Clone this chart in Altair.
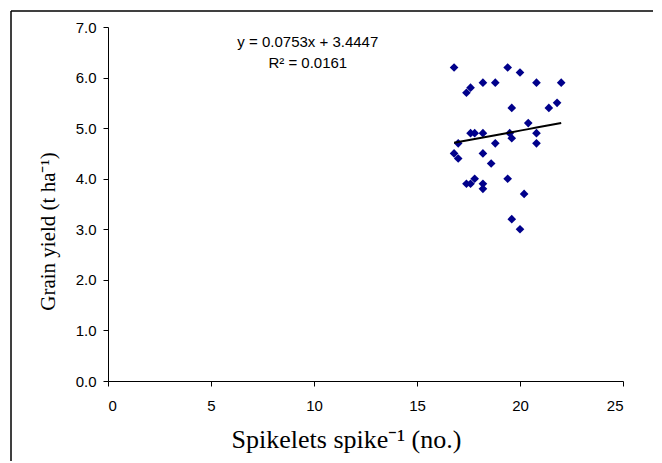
import altair as alt
import pandas as pd

# Spikelets per spike (x) and grain yield (y)
spikelets = [16.8, 19.4, 18.2, 18.8, 17.6, 17.4, 19.6, 17.6, 17.8, 18.2,
             19.5, 19.6, 17.0, 18.8, 16.8, 17.0, 18.2, 18.6, 20.0, 20.8,
             22.0, 21.4, 21.8, 20.4, 20.8, 20.8, 17.4, 17.6, 17.8, 18.2,
             18.2, 19.4, 20.2, 19.6, 20.0]
grain_yield = [6.2, 6.2, 5.9, 5.9, 5.8, 5.7, 5.4, 4.9, 4.9, 4.9,
               4.9, 4.8, 4.7, 4.7, 4.5, 4.4, 4.5, 4.3, 6.1, 5.9,
               5.9, 5.4, 5.5, 5.1, 4.9, 4.7, 3.9, 3.9, 4.0, 3.9,
               3.8, 4.0, 3.7, 3.2, 3.0]

slope = 0.0753
intercept = 3.4447
eq_labels = ["y = 0.0753x + 3.4447", "R² = 0.0161"]
eq_x = [9.7, 9.7]
eq_y = [6.70, 6.29]

x_ticks = [0, 5, 10, 15, 20, 25]
y_ticks = [0, 1, 2, 3, 4, 5, 6, 7]

df = pd.DataFrame({"x": spikelets, "y": grain_yield})
eq_df = pd.DataFrame({"label": eq_labels, "x": eq_x, "y": eq_y})

xscale = alt.Scale(domain=[0, 25], nice=False)
yscale = alt.Scale(domain=[0, 7], nice=False)

xaxis = alt.Axis(values=x_ticks, title="Spikelets spike⁻¹ (no.)", grid=False,
                 domainColor="black", tickColor="black", tickSize=5,
                 labelFont="Liberation Sans", labelFontSize=15, labelColor="black",
                 labelPadding=12,
                 titleFont="Liberation Serif", titleFontSize=26, titleFontWeight="normal",
                 titleColor="black", titleX=238, titleY=66,
                 titleBaseline="alphabetic")
yaxis = alt.Axis(values=y_ticks, format=".1f", title="Grain yield (t ha⁻¹)", grid=False,
                 domainColor="black", tickColor="black", tickSize=5,
                 labelFont="Liberation Sans", labelFontSize=15, labelColor="black",
                 labelPadding=7,
                 titleFont="Liberation Serif", titleFontSize=21, titleFontWeight="normal",
                 titleColor="black", titleX=-50, titleY=204)

points = alt.Chart(df).mark_point(shape="diamond", filled=True, color="#00008B",
                                  size=75, opacity=1).encode(
    x=alt.X("x:Q", scale=xscale, axis=xaxis),
    y=alt.Y("y:Q", scale=yscale, axis=yaxis),
)

trend = alt.Chart(df).transform_calculate(
    fit=f"{slope} * datum.x + {intercept}"
).mark_line(color="black", strokeWidth=2).encode(
    x=alt.X("x:Q", scale=xscale),
    y=alt.Y("fit:Q", scale=yscale),
    order="x:Q",
)

eq = alt.Chart(eq_df).mark_text(font="Liberation Sans", fontSize=15, color="black",
                                align="center", baseline="middle").encode(
    x=alt.X("x:Q", scale=xscale),
    y=alt.Y("y:Q", scale=yscale),
    text="label:N",
)

frame = alt.Chart(eq_df).mark_rect(fill=None, stroke="black", strokeWidth=1,
                                    clip=False).encode(
    x=alt.value(-97), x2=alt.value(552), y=alt.value(-16), y2=alt.value(470)
)

chart = alt.layer(frame, points, trend, eq).properties(
    width=515, height=354,
    autosize=alt.AutoSizeParams(type="none"),
    padding={"left": 100, "top": 19, "right": 30, "bottom": 80},
).configure_view(stroke=None)

chart.save("out.html", embed_options={"renderer": "svg", "actions": False})
